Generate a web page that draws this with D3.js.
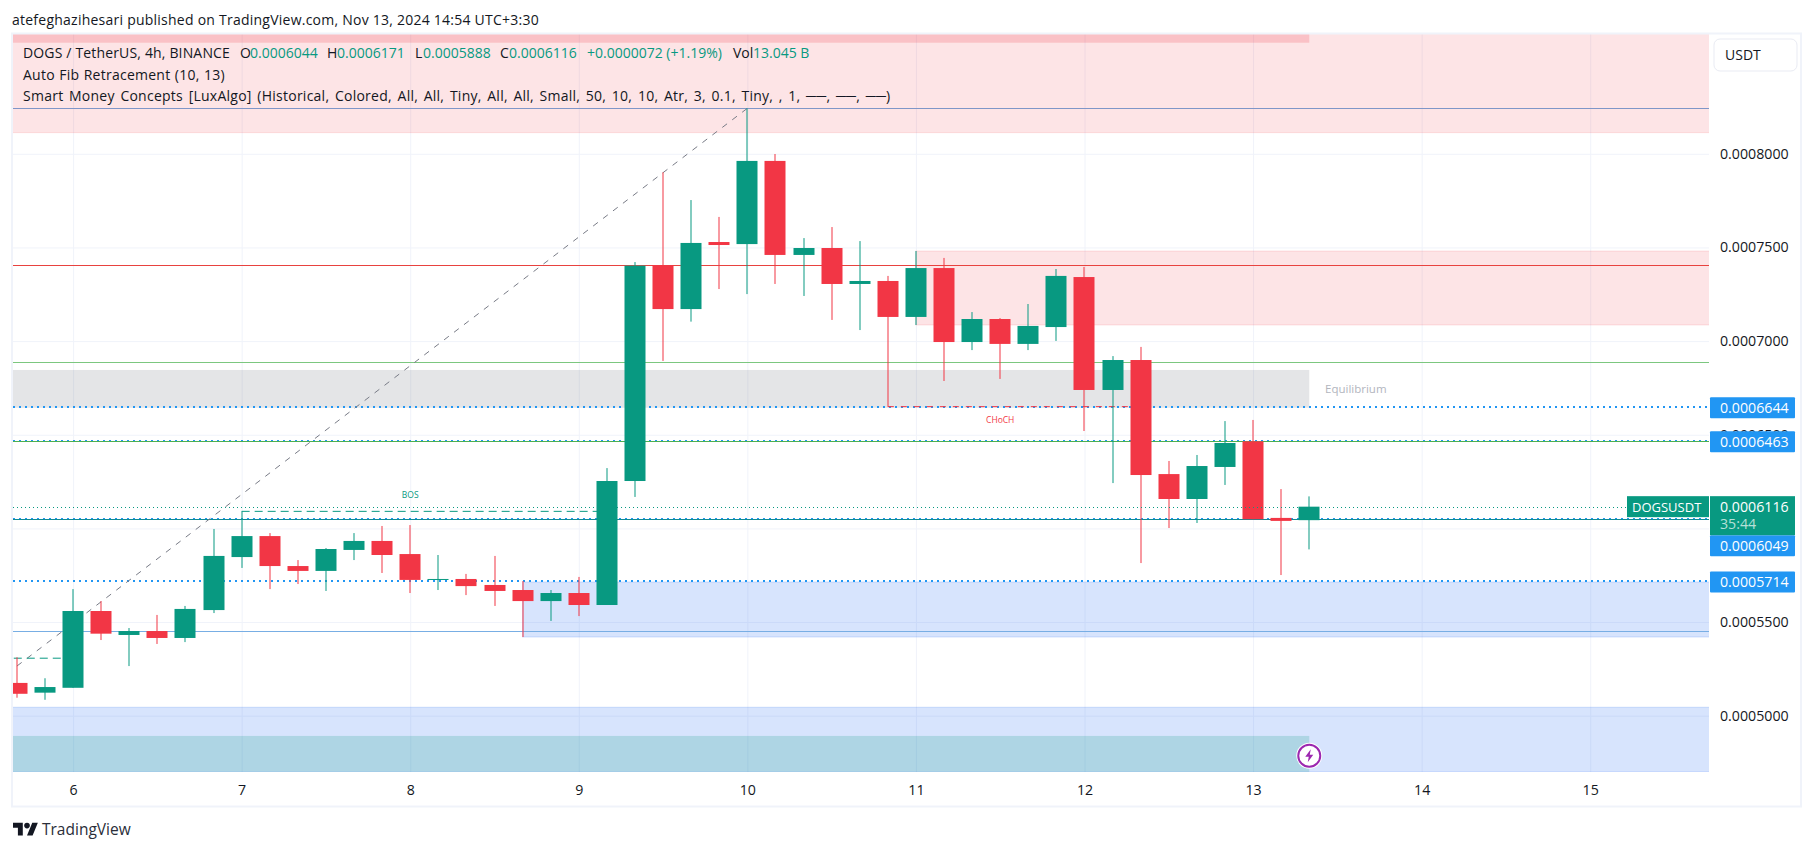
<!DOCTYPE html>
<html lang="en">

<head>
    <meta charset="UTF-8">
    <title>DOGS / TetherUS, 4h</title>
    <style>
        html, body {
            margin: 0;
            background: #fff;
        }

        text {
            font-family: "Open Sans", Roboto, sans-serif;
            fill: #131722;
        }

        .axis path, .axis line {
            display: none;
        }

        .grid path {
            display: none;
        }

        .grid line {
            stroke: #f0f3fa;
        }
    </style>
</head>

<body>
    <script src="https://d3js.org/d3.v7.min.js"></script>
    <script>
        // hours since the start of the month, one candle every 4h
        const hours = [136, 140, 144, 148, 152, 156, 160, 164, 168, 172, 176, 180, 184, 188, 192, 196, 200, 204, 208, 212, 216, 220, 224, 228, 232, 236, 240, 244, 248, 252, 256, 260, 264, 268, 272, 276, 280, 284, 288, 292, 296, 300, 304, 308, 312, 316, 320];
        const opens = [0.0005175, 0.0005123, 0.0005149, 0.0005559, 0.0005431, 0.0005452, 0.0005415, 0.0005564, 0.0005847, 0.0005959, 0.0005799, 0.0005773, 0.0005885, 0.0005933, 0.0005863, 0.0005725, 0.0005730, 0.0005698, 0.0005671, 0.0005612, 0.0005655, 0.0005591, 0.0006253, 0.0007405, 0.0007171, 0.0007529, 0.0007518, 0.0007962, 0.0007460, 0.0007497, 0.0007305, 0.0007321, 0.0007129, 0.0007390, 0.0006995, 0.0007118, 0.0006985, 0.0007075, 0.0007342, 0.0006739, 0.0006899, 0.0006290, 0.0006157, 0.0006328, 0.0006465, 0.0006056, 0.0006044];
        const highs = [0.0005312, 0.0005200, 0.0005676, 0.0005612, 0.0005468, 0.0005538, 0.0005586, 0.0005997, 0.0006091, 0.0005975, 0.0005831, 0.0005895, 0.0005975, 0.0006013, 0.0006018, 0.0005858, 0.0005757, 0.0005853, 0.0005719, 0.0005671, 0.0005741, 0.0006322, 0.0007422, 0.0007901, 0.0007753, 0.0007663, 0.0008243, 0.0007999, 0.0007550, 0.0007609, 0.0007534, 0.0007348, 0.0007481, 0.0007444, 0.0007155, 0.0007123, 0.0007198, 0.0007385, 0.0007396, 0.0006920, 0.0006969, 0.0006360, 0.0006392, 0.0006573, 0.0006579, 0.0006210, 0.0006171];
        const lows = [0.0005096, 0.0005085, 0.0005149, 0.0005404, 0.0005265, 0.0005383, 0.0005393, 0.0005548, 0.0005789, 0.0005676, 0.0005703, 0.0005666, 0.0005831, 0.0005762, 0.0005655, 0.0005671, 0.0005644, 0.0005586, 0.0005420, 0.0005506, 0.0005532, 0.0005591, 0.0006168, 0.0006894, 0.0007104, 0.0007278, 0.0007251, 0.0007305, 0.0007241, 0.0007113, 0.0007059, 0.0006650, 0.0007086, 0.0006787, 0.0006952, 0.0006798, 0.0006952, 0.0007001, 0.0006520, 0.0006242, 0.0005815, 0.0006002, 0.0006029, 0.0006232, 0.0006049, 0.0005751, 0.0005888];
        const closes = [0.0005117, 0.0005153, 0.0005559, 0.0005438, 0.0005452, 0.0005415, 0.0005570, 0.0005853, 0.0005959, 0.0005799, 0.0005773, 0.0005890, 0.0005933, 0.0005858, 0.0005725, 0.0005730, 0.0005692, 0.0005666, 0.0005612, 0.0005655, 0.0005591, 0.0006253, 0.0007403, 0.0007171, 0.0007524, 0.0007513, 0.0007962, 0.0007460, 0.0007497, 0.0007305, 0.0007321, 0.0007129, 0.0007390, 0.0006995, 0.0007118, 0.0006985, 0.0007081, 0.0007348, 0.0006739, 0.0006899, 0.0006285, 0.0006157, 0.0006333, 0.0006456, 0.0006049, 0.0006040, 0.0006116];

        const dayTicks = [144, 168, 192, 216, 240, 264, 288, 312, 336, 360];
        const priceTicks = [0.0005, 0.00055, 0.0006, 0.00065, 0.0007, 0.00075, 0.0008];
        // 0.0006000 sits fully under the price tags, so it gets no label
        const priceLabels = [0.0005, 0.00055, 0.00065, 0.0007, 0.00075, 0.0008];

        // hour from, hour to, price top, price bottom
        const topStrip = [130, 320, 0.00087, 0.0008593];
        const premiumZone = [130, 400, 0.00087, 0.0008113];
        const supplyZone = [264, 400, 0.0007481, 0.0007086];
        const equilibriumZone = [130, 320, 0.0006846, 0.0006644];
        const demandZone = [208, 400, 0.0005714, 0.000542];
        const discountZone = [130, 400, 0.0005045, 0.00047];
        const bottomStrip = [130, 320, 0.0004892, 0.00047];

        const fibPrices = [0.0008243, 0.0007405, 0.0006887, 0.0006463, 0.0006049, 0.0005451];
        const fibColors = ["#7f96c8", "#e8423f", "#7cc77f", "#4caf50", "#0f8a94", "#78aee4"];
        const levelPrices = [0.0006644, 0.0006463, 0.0006049, 0.0005714];
        const lastPrice = 0.0006116;

        const fibTrend = { hours: [136, 240], prices: [0.0005265, 0.0008243] };
        const startDash = { hours: [130, 144], price: 0.0005307 };
        const bos = { hours: [168, 220], price: 0.0006091 };
        const choch = { hours: [260, 296], price: 0.000665 };

        const legendTop = [
            ["DOGS / TetherUS, 4h, BINANCE", 23, "#131722"],
            ["O", 240, "#131722"], ["0.0006044", 250, "#089981"],
            ["H", 327, "#131722"], ["0.0006171", 337, "#089981"],
            ["L", 415, "#131722"], ["0.0005888", 423, "#089981"],
            ["C", 500, "#131722"], ["0.0006116", 509, "#089981"],
            ["+0.0000072 (+1.19%)", 587, "#089981"],
            ["Vol", 733, "#131722"], ["13.045 B", 753, "#089981"]
        ];

        const x = d3.scaleLinear().domain([144, 360]).range([73.1, 1590.2]);
        const y = d3.scaleLinear().domain([0.0005, 0.0008]).range([715.7, 153.8]);

        const paneLeft = 13, paneRight = 1709, paneTop = 34, paneBottom = 772;
        const green = "#089981", red = "#f23645", blue = "#2196f3", zoneBlue = "#2a6df4";

        const svg = d3.select("body").append("svg")
            .attr("width", 1814)
            .attr("height", 851)
            .style("display", "block");

        svg.append("clipPath").attr("id", "pane").append("rect")
            .attr("x", paneLeft)
            .attr("y", paneTop)
            .attr("width", paneRight - paneLeft)
            .attr("height", paneBottom - paneTop);

        svg.append("text")
            .attr("x", 12)
            .attr("y", 25)
            .attr("font-size", 14)
            .attr("letter-spacing", 0.24)
            .text("atefeghazihesari published on TradingView.com, Nov 13, 2024 14:54 UTC+3:30");

        // grid
        svg.append("g")
            .attr("class", "grid")
            .attr("transform", `translate(0,${paneBottom})`)
            .call(d3.axisBottom(x).tickValues(dayTicks).tickSize(-(paneBottom - paneTop)).tickFormat(""));
        svg.append("g")
            .attr("class", "grid")
            .attr("transform", `translate(${paneLeft},0)`)
            .call(d3.axisRight(y).tickValues(priceTicks).tickSize(paneRight - paneLeft).tickFormat(""));

        const pane = svg.append("g").attr("clip-path", "url(#pane)");

        function zone(z, color, alpha, edge) {
            const r = pane.append("rect")
                .attr("x", x(z[0]))
                .attr("y", y(z[2]))
                .attr("width", x(z[1]) - x(z[0]))
                .attr("height", y(z[3]) - y(z[2]))
                .attr("fill", color)
                .attr("fill-opacity", alpha);
            if (edge) {
                r.attr("stroke", color).attr("stroke-opacity", alpha);
            }
        }

        zone(premiumZone, red, 0.135, true);
        zone(topStrip, red, 0.2);
        zone(supplyZone, red, 0.135, true);
        zone(equilibriumZone, "#787b86", 0.2);
        zone(demandZone, zoneBlue, 0.19, true);
        zone(discountZone, zoneBlue, 0.19, true);
        zone(bottomStrip, green, 0.2);

        // alert levels
        pane.selectAll(".level")
            .data(levelPrices)
            .join("line")
            .attr("x1", paneLeft)
            .attr("x2", paneRight)
            .attr("y1", d => Math.floor(y(d)))
            .attr("y2", d => Math.floor(y(d)))
            .attr("stroke", blue)
            .attr("stroke-width", 2)
            .attr("stroke-dasharray", "2 4");

        // fib levels
        pane.selectAll(".fib")
            .data(fibPrices)
            .join("line")
            .attr("x1", paneLeft)
            .attr("x2", paneRight)
            .attr("y1", d => Math.floor(y(d)) + 0.5)
            .attr("y2", d => Math.floor(y(d)) + 0.5)
            .attr("stroke", (d, i) => fibColors[i])
            .attr("stroke-width", 1);

        pane.append("line")
            .attr("x1", x(fibTrend.hours[0]))
            .attr("y1", y(fibTrend.prices[0]))
            .attr("x2", x(fibTrend.hours[1]))
            .attr("y2", y(fibTrend.prices[1]))
            .attr("stroke", "#787b86")
            .attr("stroke-width", 1)
            .attr("stroke-dasharray", "6 6.5");

        pane.append("line")
            .attr("x1", x(startDash.hours[0]))
            .attr("x2", x(startDash.hours[1]))
            .attr("y1", y(startDash.price))
            .attr("y2", y(startDash.price))
            .attr("stroke", green)
            .attr("stroke-dasharray", "8 5");

        pane.append("line")
            .attr("x1", x(bos.hours[0]))
            .attr("x2", x(bos.hours[1]))
            .attr("y1", y(bos.price))
            .attr("y2", y(bos.price))
            .attr("stroke", green)
            .attr("stroke-dasharray", "8 5");

        pane.append("line")
            .attr("x1", x(choch.hours[0]))
            .attr("x2", x(choch.hours[1]))
            .attr("y1", y(choch.price))
            .attr("y2", y(choch.price))
            .attr("stroke", red)
            .attr("stroke-dasharray", "6 7");

        pane.append("text")
            .attr("x", x(192))
            .attr("y", y(bos.price) - 13)
            .attr("text-anchor", "middle")
            .attr("font-size", 8.5)
            .style("fill", green)
            .text("BOS");

        pane.append("text")
            .attr("x", x(276))
            .attr("y", y(choch.price) + 16)
            .attr("text-anchor", "middle")
            .attr("font-size", 8.5)
            .style("fill", red)
            .text("CHoCH");

        pane.append("text")
            .attr("x", 1325)
            .attr("y", y(0.0006745) + 4)
            .attr("font-size", 11.5)
            .style("fill", "#b2b5be")
            .text("Equilibrium");

        // candles
        const candle = pane.selectAll(".candle")
            .data(hours)
            .join("g")
            .attr("class", "candle")
            .attr("fill", (d, i) => closes[i] >= opens[i] ? green : red);

        candle.append("rect")
            .attr("x", d => Math.round(x(d)) - 0.5)
            .attr("width", 1)
            .attr("y", (d, i) => y(highs[i]))
            .attr("height", (d, i) => y(lows[i]) - y(highs[i]));

        candle.append("rect")
            .attr("x", d => Math.round(x(d)) - 10.5)
            .attr("width", 21)
            .attr("y", (d, i) => y(Math.max(opens[i], closes[i])))
            .attr("height", (d, i) => Math.max(1, Math.abs(y(opens[i]) - y(closes[i]))));

        // last price line
        pane.append("line")
            .attr("x1", paneLeft)
            .attr("x2", paneRight)
            .attr("y1", Math.round(y(lastPrice)) + 0.5)
            .attr("y2", Math.round(y(lastPrice)) + 0.5)
            .attr("stroke", green)
            .attr("stroke-dasharray", "1 3");

        // session icon
        const icon = svg.append("g")
            .attr("transform", `translate(${x(320)},755.7)`);
        icon.append("circle").attr("r", 13).attr("fill", "#fff");
        icon.append("circle").attr("r", 11).attr("fill", "#fff").attr("stroke", "#9c27b0").attr("stroke-width", 2);
        icon.append("path").attr("d", "M1.5 -6.5 L-4 1 L-0.5 1 L-1.5 6.5 L4 -1 L0.5 -1 Z").attr("fill", "#9c27b0");

        // frame
        svg.append("rect")
            .attr("x", 12)
            .attr("y", 33.5)
            .attr("width", 1789)
            .attr("height", 773)
            .attr("fill", "none")
            .attr("stroke", "#f0f3fa")
            .attr("stroke-width", 2);

        // axes
        svg.append("g")
            .attr("class", "axis")
            .attr("transform", `translate(1720,0)`)
            .call(d3.axisRight(y).tickValues(priceLabels).tickSize(0).tickPadding(0).tickFormat(d3.format(".7f")))
            .selectAll("text")
            .attr("font-size", 14.2);

        svg.append("g")
            .attr("class", "axis")
            .attr("transform", `translate(0,780)`)
            .call(d3.axisBottom(x).tickValues(dayTicks).tickSize(0).tickPadding(0).tickFormat(d => d / 24))
            .selectAll("text")
            .attr("font-size", 14.2)
            .attr("dy", "1.05em");

        // price tags
        const tagLeft = 1710, tagWidth = 85, tagHeight = 21;
        function priceTag(price, top) {
            svg.append("rect")
                .attr("x", tagLeft)
                .attr("y", top)
                .attr("width", tagWidth)
                .attr("height", tagHeight)
                .attr("rx", 1)
                .attr("fill", blue);
            svg.append("text")
                .attr("x", 1720)
                .attr("y", top + 15.5)
                .attr("font-size", 14.2)
                .style("fill", "#fff")
                .text(d3.format(".7f")(price));
        }

        const lastTop = y(lastPrice) - 10.5;
        levelPrices.forEach(p => {
            let top = y(p) - 10.5;
            if (top > lastTop && top < lastTop + 39) {
                top = lastTop + 39;
            }
            priceTag(p, top);
        });

        svg.append("rect")
            .attr("x", tagLeft)
            .attr("y", lastTop)
            .attr("width", tagWidth)
            .attr("height", 39)
            .attr("fill", green);
        svg.append("text")
            .attr("x", 1720)
            .attr("y", lastTop + 15.5)
            .attr("font-size", 14.2)
            .style("fill", "#fff")
            .text(d3.format(".7f")(lastPrice));
        svg.append("text")
            .attr("x", 1720)
            .attr("y", lastTop + 33)
            .attr("font-size", 14.2)
            .style("fill", "#b5e0d8")
            .text("35:44");

        svg.append("rect")
            .attr("x", 1627)
            .attr("y", lastTop)
            .attr("width", 82)
            .attr("height", tagHeight)
            .attr("fill", green);
        svg.append("text")
            .attr("x", 1632)
            .attr("y", lastTop + 15.5)
            .attr("font-size", 13)
            .style("fill", "#fff")
            .text("DOGSUSDT");

        // currency button
        svg.append("rect")
            .attr("x", 1714)
            .attr("y", 39)
            .attr("width", 83)
            .attr("height", 32)
            .attr("rx", 6)
            .attr("fill", "#fff")
            .attr("stroke", "#e9ebf3");
        svg.append("text")
            .attr("x", 1725)
            .attr("y", 60)
            .attr("font-size", 14)
            .text("USDT");

        // legend
        const legend = svg.append("g").attr("font-size", 14);
        legend.selectAll("text")
            .data(legendTop)
            .join("text")
            .attr("x", d => d[1])
            .attr("y", 58)
            .style("fill", d => d[2])
            .attr("letter-spacing", (d, i) => i === 0 ? 0.16 : 0)
            .text(d => d[0]);
        legend.append("text")
            .attr("x", 23)
            .attr("y", 80)
            .attr("letter-spacing", 0.25)
            .attr("word-spacing", 0.5)
            .text("Auto Fib Retracement (10, 13)");
        legend.append("text")
            .attr("x", 23)
            .attr("y", 101)
            .attr("letter-spacing", 0.25)
            .attr("word-spacing", 1.75)
            .text("Smart Money Concepts [LuxAlgo] (Historical, Colored, All, All, Tiny, All, All, Small, 50, 10, 10, Atr, 3, 0.1, Tiny, , 1, \u2500\u2500, \u2500\u2500, \u2500\u2500)");

        // TradingView mark
        const logo = svg.append("g")
            .attr("transform", "translate(13,820) scale(0.7)")
            .attr("fill", "#131722");
        logo.append("path").attr("d", "M14 22H7V11H0V4h14v18zM28 22h-8l7.5-18h8L28 22z");
        logo.append("circle").attr("cx", 20).attr("cy", 8).attr("r", 4);
        svg.append("text")
            .attr("x", 42)
            .attr("y", 835)
            .attr("font-size", 15.5)
            .style("fill", "#2a2e39")
            .text("TradingView");
    </script>
</body>

</html>
